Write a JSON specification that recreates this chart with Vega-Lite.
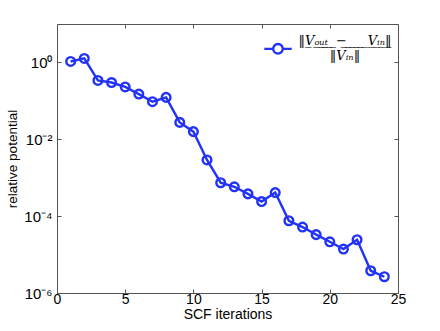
{
  "$schema": "https://vega.github.io/schema/vega-lite/v6.json",
  "width": 341,
  "height": 269,
  "autosize": {"type": "none"},
  "padding": {"left": 57, "top": 24, "right": 42, "bottom": 38},
  "background": "white",
  "config": {
    "view": {"stroke": "#555555", "strokeWidth": 1},
    "font": "Liberation Sans"
  },
  "data": {
    "values": [
      {"iter": 1, "val": 1.06, "s": "norm"},
      {"iter": 2, "val": 1.27, "s": "norm"},
      {"iter": 3, "val": 0.34, "s": "norm"},
      {"iter": 4, "val": 0.30, "s": "norm"},
      {"iter": 5, "val": 0.23, "s": "norm"},
      {"iter": 6, "val": 0.15, "s": "norm"},
      {"iter": 7, "val": 0.095, "s": "norm"},
      {"iter": 8, "val": 0.123, "s": "norm"},
      {"iter": 9, "val": 0.0275, "s": "norm"},
      {"iter": 10, "val": 0.0158, "s": "norm"},
      {"iter": 11, "val": 0.0029, "s": "norm"},
      {"iter": 12, "val": 0.00074, "s": "norm"},
      {"iter": 13, "val": 0.00058, "s": "norm"},
      {"iter": 14, "val": 0.00038, "s": "norm"},
      {"iter": 15, "val": 0.00024, "s": "norm"},
      {"iter": 16, "val": 0.00041, "s": "norm"},
      {"iter": 17, "val": 0.000076, "s": "norm"},
      {"iter": 18, "val": 0.000052, "s": "norm"},
      {"iter": 19, "val": 0.000033, "s": "norm"},
      {"iter": 20, "val": 0.0000215, "s": "norm"},
      {"iter": 21, "val": 0.0000139, "s": "norm"},
      {"iter": 22, "val": 0.0000243, "s": "norm"},
      {"iter": 23, "val": 0.0000038, "s": "norm"},
      {"iter": 24, "val": 0.00000265, "s": "norm"}
    ]
  },
  "layer": [
    {
      "mark": {"type": "line", "strokeWidth": 2.4, "clip": true},
      "encoding": {
        "x": {
          "field": "iter", "type": "quantitative",
          "scale": {"domain": [0, 25], "nice": false, "zero": false},
          "axis": {
            "values": [0, 5, 10, 15, 20, 25],
            "title": "SCF iterations",
            "titleFont": "Liberation Sans", "titleFontSize": 14, "titleFontWeight": "normal", "titleColor": "black",
            "titlePadding": 1,
            "labelFont": "Liberation Sans", "labelFontSize": 14, "labelColor": "black",
            "labelPadding": 3,
            "tickSize": -4, "tickColor": "#555555",
            "domain": false, "grid": false, "labelFlush": false
          }
        },
        "y": {
          "field": "val", "type": "quantitative",
          "scale": {"type": "log", "domain": [0.000001, 10], "nice": false},
          "axis": {
            "values": [0.000001, 0.0001, 0.01, 1],
            "labelExpr": "datum.value >= 0.5 ? '10⁰' : datum.value >= 0.005 ? '10⁻²' : datum.value >= 0.00005 ? '10⁻⁴' : '10⁻⁶'",
            "title": "relative potential",
            "titleFont": "Liberation Sans", "titleFontSize": 13.5, "titleFontWeight": "normal", "titleColor": "black",
            "titlePadding": 4,
            "labelFont": "Liberation Sans", "labelFontSize": 15, "labelColor": "black",
            "labelPadding": 9,
            "labelBaseline": "middle",
            "tickSize": -4, "tickColor": "#555555",
            "domain": false, "grid": false, "labelFlush": false
          }
        },
        "color": {
          "field": "s", "type": "nominal",
          "scale": {"range": ["#2233f5"]},
          "legend": {
            "orient": "top-right",
            "title": null,
            "offset": 4,
            "labelExpr": "['‖V̲ₒ̲ᵤ̲ₜ̲\u00a0̲\u00a0̲−̲\u00a0̲\u00a0̲\u00a0̲\u00a0̲\u00a0̲V̲ᵢ̲ₙ̲‖̲', '‖Vᵢₙ‖']",
            "labelFont": "DejaVu Serif",
            "labelFontStyle": "italic",
            "labelFontSize": 13,
            "labelAlign": "center",
            "labelBaseline": "alphabetic",
            "labelColor": "black",
            "labelLimit": 300,
            "labelOffset": 52,
            "symbolType": "M-1,0.28H-0.35M0.35,0.28H1M-0.35,0.28A0.35,0.35 0 1,0 0.35,0.28A0.35,0.35 0 1,0 -0.35,0.28Z",
            "symbolSize": 750,
            "symbolStrokeWidth": 2.4,
            "symbolFillColor": "transparent",
            "symbolStrokeColor": "#2233f5",
            "padding": 2
          }
        }
      }
    },
    {
      "mark": {"type": "point", "filled": false, "size": 75, "strokeWidth": 2.4, "opacity": 1, "clip": true},
      "encoding": {
        "x": {"field": "iter", "type": "quantitative", "axis": {"orient": "top", "values": [0, 5, 10, 15, 20, 25], "labels": false, "title": null, "tickSize": -4, "tickColor": "#555555", "domain": false, "grid": false}},
        "y": {"field": "val", "type": "quantitative", "axis": {"orient": "right", "values": [0.000001, 0.0001, 0.01, 1], "labels": false, "title": null, "tickSize": -4, "tickColor": "#555555", "domain": false, "grid": false}},
        "color": {"field": "s", "type": "nominal", "legend": null}
      }
    }
  ],
  "resolve": {"axis": {"x": "independent", "y": "independent"}, "scale": {"x": "shared", "y": "shared"}}
}
